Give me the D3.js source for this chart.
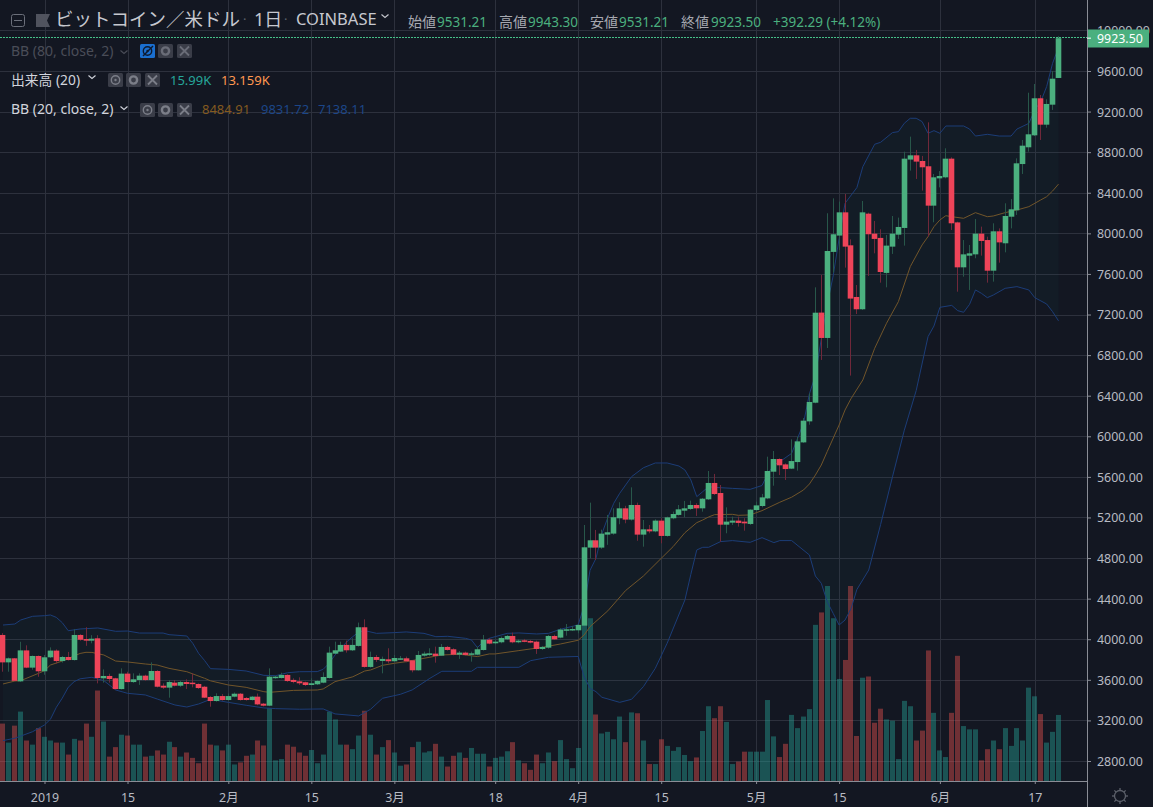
<!DOCTYPE html>
<html lang="ja">
<head>
<meta charset="UTF-8">
<title>ビットコイン／米ドル 1日 COINBASE</title>
<style>
  html, body { margin: 0; padding: 0; background: #131722; overflow: hidden; }
  svg { display: block; }
  text { font-family: "Noto Sans", "Noto Sans CJK JP", sans-serif; }
  .axis path { display: none; }
  .axis text { fill: #b8bbc3; font-size: 12.4px; }
  .axis line { stroke: #8a8d96; }
</style>
</head>
<body>
<svg id="chart" width="1153" height="807"></svg>
<script src="https://d3js.org/d3.v7.min.js"></script>
<script>
// candles are one per day, first one is 7 days before 2019-01-01
const firstDay = -7;
const opens = [
  4042,3772,3812,3585,3890,3720,3835,
  3684,3822,3888,3785,3825,3795,4042,4002,3986,4009,
  3615,3638,3615,3509,3661,3578,3598,3641,3598,3687,
  3542,3523,3572,3542,3578,3572,3559,3532,3431,3391,
  3440,3401,3434,3463,3421,3401,3434,3365,3345,3618,
  3618,3648,3599,3585,3576,3549,3556,3572,3618,3858,
  3878,3944,3891,3934,4118,3727,3825,3786,3802,3783,
  3802,3812,3792,3694,3838,3845,3858,3838,3924,3901,
  3848,3868,3848,3848,3894,3996,3960,3970,3999,4032,
  3970,3989,3983,3976,3904,3917,4032,4016,4088,4088,
  4088,4134,4903,4975,4903,5031,5041,5192,5290,5179,
  5323,5031,5083,5063,5169,5018,5192,5225,5267,5284,
  5323,5290,5379,5540,5441,5129,5149,5169,5159,5136,
  5273,5313,5388,5651,5776,5723,5681,5746,5940,6147,
  6331,7219,6969,7817,7978,8207,7882,7373,7252,8194,
  7997,7955,7610,7869,7987,8053,8727,8769,8713,8661,
  8273,8542,8552,8736,8108,7665,7780,7793,7997,7934,
  7632,8020,7902,8164,8227,8683,8848,8966,9331,9071,
  9268,9531.21
];
const highs = [
  4060,3820,3815,3975,3940,3840,3840,
  3845,3920,3900,3835,3875,4098,4050,4118,4040,4040,
  3703,3660,3620,3713,3680,3664,3664,3650,3772,3695,
  3565,3598,3598,3590,3605,3664,3565,3540,3440,3467,
  3460,3465,3475,3470,3430,3440,3465,3372,3713,3640,
  3670,3655,3615,3625,3582,3615,3599,3674,3927,3976,
  3976,3986,4009,4164,4196,3878,3845,3829,3911,3845,
  3835,3829,3796,3884,3878,3911,3927,3953,3934,3911,
  3884,3878,3878,3927,4042,4009,3993,4026,4042,4065,
  3999,4003,3993,3986,3934,4042,4045,4108,4150,4131,
  4150,5126,5346,5077,5080,5225,5290,5350,5315,5497,
  5346,5175,5126,5182,5192,5208,5258,5323,5363,5366,
  5340,5392,5658,5629,5520,5300,5208,5208,5192,5280,
  5356,5432,5799,5855,5783,5733,5970,5996,6180,6423,
  7468,7590,8198,8345,8313,8388,7941,7491,8319,8204,
  8122,8040,7984,8171,8155,8805,8953,8822,8763,9094,
  8585,8614,8838,8749,8115,7934,7885,8141,8066,7967,
  8099,8049,8296,8338,8739,8920,9386,9472,9363,9321,
  9600,9943.3
];
const lows = [
  3680,3680,3585,3580,3715,3700,3630,
  3650,3815,3760,3770,3790,3790,3985,3935,3960,3565,
  3572,3572,3505,3505,3575,3570,3550,3590,3595,3525,
  3510,3424,3535,3530,3510,3526,3510,3420,3335,3385,
  3395,3395,3428,3395,3395,3396,3350,3338,3340,3610,
  3612,3580,3566,3549,3539,3546,3549,3566,3612,3855,
  3875,3868,3884,3927,3720,3720,3776,3664,3763,3776,
  3796,3773,3674,3691,3829,3835,3769,3835,3888,3842,
  3806,3838,3779,3842,3888,3950,3950,3960,3993,3960,
  3960,3970,3960,3855,3894,3907,3993,4009,4035,4082,
  4059,4128,4797,4781,4890,4930,5030,5133,5143,5169,
  4970,4912,5044,5054,4945,5011,5182,5218,5202,5274,
  5215,5257,5372,5421,4962,5044,5126,5110,5070,5126,
  5258,5300,5380,5513,5618,5569,5677,5661,5935,6114,
  6325,6752,6870,7613,7836,7662,6598,7205,7245,7580,
  7803,7514,7468,7797,7945,7879,8618,8536,8421,7968,
  8109,8453,8542,8033,7425,7573,7442,7754,7780,7514,
  7524,7711,7813,8049,8181,8585,8805,8959,8920,9041,
  9216,9531.21
];
const closes = [
  3772,3812,3590,3890,3720,3835,3684,
  3822,3888,3785,3825,3795,4042,3995,3986,4005,3618,
  3638,3608,3509,3661,3578,3605,3641,3598,3687,3532,
  3523,3578,3542,3578,3559,3559,3519,3424,3391,3440,
  3401,3440,3463,3401,3401,3434,3358,3345,3631,3631,
  3648,3588,3579,3566,3549,3566,3589,3628,3868,3891,
  3944,3891,3944,4118,3727,3825,3796,3806,3783,3815,
  3812,3783,3694,3845,3858,3861,3835,3924,3894,3848,
  3868,3845,3861,3901,3996,3957,3976,4012,4032,3970,
  3986,3976,3967,3904,3924,4032,3999,4095,4098,4101,
  4141,4906,4975,4903,5041,5054,5202,5290,5179,5323,
  5031,5083,5063,5169,5018,5201,5234,5280,5290,5323,
  5290,5385,5540,5431,5129,5159,5169,5146,5142,5277,
  5319,5398,5658,5776,5714,5677,5756,5950,6154,6338,
  7218,6969,7826,7991,8207,7869,7357,7252,8207,7991,
  7945,7619,7879,7997,8063,8736,8769,8707,8651,8273,
  8552,8565,8736,8099,7665,7793,7803,7997,7925,7632,
  8020,7911,8171,8237,8690,8864,8976,9331,9071,9275,
  9524,9923.5
];
// volume in thousands
const volumes = [
  13.9,9.3,13.4,16.8,9.8,8.8,12.8,
  10.7,9.8,9.3,9.3,6.4,10.2,9.8,13.9,10.7,21.9,
  14.4,5.9,8.2,11.2,11.0,8.8,8.8,5.9,6.1,7.4,
  6.4,9.5,8.2,5.9,6.9,5.6,4.3,13.9,8.8,8.6,
  7.4,8.8,4.0,4.5,6.1,6.4,9.8,8.6,17.7,5.0,
  5.3,8.8,8.3,6.9,6.1,7.5,4.3,6.4,16.8,14.9,
  8.8,8.8,7.7,11.0,17.0,11.2,6.4,8.2,9.9,6.9,
  3.7,4.0,8.2,9.5,6.9,7.2,9.0,5.9,3.5,6.1,
  6.9,5.6,8.0,6.6,6.6,3.5,5.6,5.9,7.2,9.4,
  5.0,4.3,2.7,6.4,4.3,6.9,4.8,9.9,5.3,3.1,
  8.0,39.0,39.4,16.1,11.5,11.9,10.1,15.6,9.4,16.6,
  16.4,9.8,4.1,4.1,10.1,8.5,7.3,8.2,6.3,4.8,
  5.7,12.1,18.1,15.2,18.1,14.3,4.1,4.7,7.1,7.1,
  7.1,7.1,19.6,10.8,5.8,9.0,16.0,12.8,15.6,17.4,
  37.8,40.8,47.2,39.4,24.7,29.3,47.2,10.9,25.0,25.3,
  14.1,17.5,14.9,14.6,5.3,19.4,18.1,9.8,12.2,31.6,
  16.5,7.4,5.8,16.5,30.3,13.3,12.5,12.5,5.0,7.7,
  9.8,7.7,12.8,8.5,12.8,9.8,22.6,20.5,16.2,9.3,
  11.9,15.99
];

// Bollinger bands, read at the days where the lines bend
const upperDays = [-7,-5,-4,-2,0,1,2,3,4,6,9,12,14,16,20,21,24,25,26,27,28,31,34,37,39,41,43,46,47,48,49,51,52,53,54,56,59,61,64,66,68,71,72,73,74,75,78,80,83,85,87,90,91,92,93,94,95,96,97,99,101,103,105,107,108,109,110,111,112,113,116,119,121,122,123,124,126,127,128,129,130,131,132,133,134,135,137,138,140,141,143,144,145,146,147,148,149,150,151,152,155,156,157,159,161,163,164,166,167,168,169,170,171];
const upperVals = [4140,4150,4190,4226,4232,4239,4215,4163,4084,4101,4111,4078,4081,4061,4061,4045,4032,3960,3860,3790,3710,3703,3687,3644,3641,3670,3680,3681,3704,3763,3845,3976,4026,4072,4085,4058,4065,4072,4058,4025,4029,4009,3993,3917,3976,4009,4058,4062,4052,4058,4098,4141,4330,4680,4797,5040,5200,5340,5438,5602,5690,5737,5737,5707,5668,5570,5405,5454,5504,5497,5487,5477,5515,5635,5717,5750,5832,5980,6130,6420,6600,6960,7300,7580,7950,8296,8451,8657,8878,8897,8993,9002,9085,9134,9134,9101,8986,9012,8986,9058,9058,9028,8959,8976,8959,8959,9028,9084,9216,9298,9446,9675,9831.72];
const basisDays = [-7,-5,-4,-1,0,1,3,5,6,7,8,10,12,14,17,19,21,24,27,28,31,34,37,38,42,46,47,49,52,54,55,57,59,61,64,67,70,73,75,76,80,84,87,90,91,92,95,98,101,104,106,108,110,111,112,113,116,117,119,121,124,126,128,129,130,131,132,134,135,136,138,140,142,144,146,148,149,150,151,152,153,155,157,159,160,162,164,166,168,169,170,171];
const basisVals = [3559,3588,3592,3664,3690,3746,3785,3835,3860,3871,3870,3845,3785,3776,3756,3746,3713,3680,3615,3590,3549,3526,3483,3477,3496,3500,3510,3582,3630,3687,3697,3743,3763,3779,3812,3845,3852,3829,3855,3855,3888,3921,3953,3990,4042,4124,4280,4480,4623,4797,4912,5050,5149,5175,5205,5228,5231,5221,5225,5267,5350,5400,5471,5530,5618,5717,5850,6111,6259,6370,6555,6867,7114,7327,7672,7886,7968,8066,8132,8174,8164,8148,8204,8164,8171,8204,8230,8263,8329,8361,8417,8484.91];
const lowerDays = [-7,-5,-2,0,1,2,3,4,5,6,8,10,12,14,17,19,22,24,26,28,31,34,37,39,43,47,49,53,55,57,60,62,65,67,72,73,80,82,85,90,91,92,93,94,97,99,101,103,105,108,109,110,111,112,114,116,119,121,123,124,126,129,130,131,132,133,134,135,136,137,139,141,143,145,147,149,150,151,153,154,155,156,157,158,159,160,162,164,166,167,169,170,171];
const lowerVals = [3001,3024,3089,3155,3211,3330,3420,3526,3582,3610,3625,3592,3500,3467,3451,3411,3352,3332,3362,3408,3378,3349,3323,3316,3310,3313,3264,3244,3310,3418,3457,3500,3615,3684,3684,3723,3723,3789,3822,3830,3631,3516,3483,3428,3378,3408,3533,3713,3960,4387,4640,4880,4906,4906,4962,4972,4955,5001,4952,4972,4972,4830,4623,4551,4370,4255,4140,4189,4300,4490,4682,5130,5600,6060,6450,6982,7087,7271,7290,7238,7222,7300,7442,7409,7366,7392,7458,7475,7442,7366,7304,7228,7138.11];

const priceTicks = d3.range(2800, 10001, 400);
const timeTickDays = [0,14,31,45,59,76,90,104,120,134,151,167];
const timeTickLabels = ["2019","15","2月","15","3月","18","4月","15","5月","15","6月","17"];
const lastClose = 9923.5;

const upColor = "#4bb07f", downColor = "#ee4459";
const upWick = "#28574a", downWick = "#70283a";
const bandColor = "#1c3d78", basisColor = "#71552a";
const gridColor = "#2d313d";

const width = 1153, plotRight = 1087, plotBottom = 781;
const svg = d3.select("#chart");

svg.append("rect").attr("width", width).attr("height", 807).attr("fill", "#131722");

const x = d3.scaleLinear().domain([0, 171]).range([44.5, 1058.5]);
const y = d3.scaleLinear().domain([2800, 10000]).range([761, 30.4]);
const yVol = d3.scaleLinear().domain([0, 47.2]).range([plotBottom, 586]);

// snap to a pixel centre so thin lines stay sharp
const crisp = v => Math.round(v) + 0.5;
const barLeft = day => Math.round(x(day) - 2.5);

const candles = opens.map((o, i) => ({
  day: firstDay + i, open: o, high: highs[i], low: lows[i], close: closes[i], volume: volumes[i]
}));
const isUp = d => d.close >= d.open;

// grid
svg.append("g").selectAll("line").data(priceTicks).join("line")
  .attr("x1", 0).attr("x2", plotRight)
  .attr("y1", d => crisp(y(d))).attr("y2", d => crisp(y(d)))
  .attr("stroke", gridColor);
svg.append("g").selectAll("line").data(timeTickDays).join("line")
  .attr("y1", 0).attr("y2", plotBottom)
  .attr("x1", d => crisp(x(d))).attr("x2", d => crisp(x(d)))
  .attr("stroke", gridColor);

// volume
svg.append("g").selectAll("rect").data(candles).join("rect")
  .attr("x", d => barLeft(d.day)).attr("width", 5)
  .attr("y", d => yVol(d.volume)).attr("height", d => plotBottom - yVol(d.volume))
  .attr("fill", d => isUp(d) ? "#26a69a" : "#ef5350")
  .attr("opacity", 0.42);

// bands
const pts = (days, vals) => days.map((d, i) => [d, vals[i]]);
const upperPts = pts(upperDays, upperVals);
const basisPts = pts(basisDays, basisVals);
const lowerPts = pts(lowerDays, lowerVals);
const line = d3.line().x(d => x(d[0])).y(d => y(d[1]));

svg.append("path")
  .attr("d", line(upperPts.concat(lowerPts.slice().reverse())) + "Z")
  .attr("fill", "#1f8f8f").attr("opacity", 0.045);
[[upperPts, bandColor], [lowerPts, bandColor], [basisPts, basisColor]].forEach(([p, c]) => {
  svg.append("path").attr("d", line(p)).attr("fill", "none").attr("stroke", c).attr("stroke-width", 1);
});

// candles
svg.append("g").selectAll("line").data(candles).join("line")
  .attr("x1", d => barLeft(d.day) + 2.5).attr("x2", d => barLeft(d.day) + 2.5)
  .attr("y1", d => y(d.high)).attr("y2", d => y(d.low))
  .attr("stroke", d => isUp(d) ? upWick : downWick).attr("stroke-width", 1);
svg.append("g").selectAll("rect").data(candles).join("rect")
  .attr("x", d => barLeft(d.day) - 0.3).attr("width", 5.6)
  .attr("y", d => y(Math.max(d.open, d.close)))
  .attr("height", d => Math.max(1.5, Math.abs(y(d.open) - y(d.close))))
  .attr("fill", d => isUp(d) ? upColor : downColor);

// last price line
svg.append("line")
  .attr("x1", 0).attr("x2", plotRight).attr("y1", crisp(y(lastClose)) - 1).attr("y2", crisp(y(lastClose)) - 1)
  .attr("stroke", "#45c088").attr("stroke-dasharray", "2 1");

// axes
const yAxis = d3.axisRight(y).tickValues(priceTicks).tickFormat(d3.format(".2f")).tickSize(4).tickPadding(6);
const yG = svg.append("g").attr("class", "axis").attr("transform", `translate(${plotRight},0)`).call(yAxis);
yG.selectAll("text").attr("dy", "0.36em");
const xAxis = d3.axisBottom(x).tickValues(timeTickDays).tickFormat((d, i) => timeTickLabels[i]).tickSize(3).tickPadding(9);
svg.append("g").attr("class", "axis").attr("transform", `translate(0,${plotBottom})`).call(xAxis);

svg.append("line").attr("x1", 0).attr("x2", plotRight).attr("y1", plotBottom + 0.5).attr("y2", plotBottom + 0.5).attr("stroke", "#8a8d96");
svg.append("line").attr("x1", plotRight + 0.5).attr("x2", plotRight + 0.5).attr("y1", 0).attr("y2", 807).attr("stroke", "#8a8d96");

// last price label
svg.append("rect").attr("x", plotRight + 1).attr("y", 29.5).attr("width", 61).attr("height", 18).attr("fill", upColor);
svg.append("line").attr("x1", plotRight).attr("x2", plotRight + 4).attr("y1", y(lastClose)).attr("y2", y(lastClose)).attr("stroke", "#fff");
svg.append("text").attr("x", 1097).attr("y", y(lastClose) + 4.5).attr("fill", "#fff").attr("font-size", 12.4).text(d3.format(".2f")(lastClose));

// settings icon, bottom right
const gear = svg.append("g").attr("transform", "translate(1120,796)").attr("stroke", "#5d616b").attr("fill", "none");
gear.append("circle").attr("r", 5.5).attr("stroke-width", 1.3);
d3.range(8).forEach(i => {
  const a = i * Math.PI / 4;
  gear.append("line").attr("x1", 5.5 * Math.cos(a)).attr("y1", 5.5 * Math.sin(a))
    .attr("x2", 8 * Math.cos(a)).attr("y2", 8 * Math.sin(a)).attr("stroke-width", 1.3);
});

// header
const label = (txt, tx, ty, size, color) => svg.append("text").attr("x", tx).attr("y", ty)
  .attr("font-size", size).attr("fill", color).text(txt);
const chevron = (cx, cy, color) => svg.append("path")
  .attr("d", `M${cx - 3.5},${cy - 1.5}L${cx},${cy + 1.5}L${cx + 3.5},${cy - 1.5}`)
  .attr("fill", "none").attr("stroke", color).attr("stroke-width", 1.1);

svg.append("rect").attr("x", 11.5).attr("y", 14.5).attr("width", 13).attr("height", 12).attr("rx", 2)
  .attr("fill", "none").attr("stroke", "#6b6f7a");
svg.append("line").attr("x1", 14).attr("x2", 22).attr("y1", 20.5).attr("y2", 20.5).attr("stroke", "#6b6f7a");
svg.append("path").attr("d", "M36,14H50L47,20.5L50,27H36Z").attr("fill", "#50535e");

const titleColor = "#c6c8cf";
label("ビットコイン／米ドル", 55, 26, 18.5, titleColor);
label("·", 243, 24, 13, "#5d616b");
label("1日", 254, 26, 18, titleColor);
label("·", 284, 24, 13, "#5d616b");
label("COINBASE", 296, 25, 16.5, titleColor);
chevron(385, 16, titleColor);

const green = "#4bb07f", quoteLabel = "#a6a8b0";
[["始値", "9531.21", 408, 437], ["高値", "9943.30", 499, 528], ["安値", "9531.21", 590, 619], ["終値", "9923.50", 681, 711]].forEach(q => {
  label(q[0], q[2], 27, 14, quoteLabel);
  label(q[1], q[3], 27, 13.5, green);
});
label("+392.29 (+4.12%)", 773, 27, 13.5, green);

// indicator rows
const iconBox = (bx, by, w, fill) => svg.append("rect").attr("x", bx).attr("y", by).attr("width", w).attr("height", 14).attr("rx", 1.5).attr("fill", fill);
const iconEye = (cx, cy, color) => {
  svg.append("circle").attr("cx", cx).attr("cy", cy).attr("r", 4.2).attr("fill", "none").attr("stroke", color).attr("stroke-width", 1.4);
  svg.append("circle").attr("cx", cx).attr("cy", cy).attr("r", 1.2).attr("fill", color);
};
const iconGear = (cx, cy, color) => {
  svg.append("circle").attr("cx", cx).attr("cy", cy).attr("r", 3.6).attr("fill", "none").attr("stroke", color).attr("stroke-width", 2.4);
};
const iconX = (cx, cy, color) => svg.append("path")
  .attr("d", `M${cx - 4.5},${cy - 4.5}L${cx + 4.5},${cy + 4.5}M${cx + 4.5},${cy - 4.5}L${cx - 4.5},${cy + 4.5}`)
  .attr("stroke", color).attr("stroke-width", 1.8);

function iconRow(bx, by, firstFill, firstColor, fill, color) {
  iconBox(bx, by, 15, firstFill);
  iconEye(bx + 7.5, by + 7, firstColor);
  iconBox(bx + 18, by, 15, fill);
  iconGear(bx + 25.5, by + 7, color);
  iconBox(bx + 37, by, 15, fill);
  iconX(bx + 44.5, by + 7, color);
}

label("BB (80, close, 2)", 11, 56, 14, "#4a4d58");
chevron(124, 52, "#4a4d58");
iconRow(140, 44, "#1a6fd0", "#0d1a30", "#3a3d48", "#6a6d78");
svg.append("line").attr("x1", 143).attr("y1", 56).attr("x2", 153).attr("y2", 46).attr("stroke", "#0d1a30").attr("stroke-width", 1.4);

label("出来高 (20)", 11, 85, 13.8, "#d1d4dc");
chevron(92, 77, "#d1d4dc");
iconRow(108, 73, "#3a3d48", "#7b7e88", "#3a3d48", "#7b7e88");
label("15.99K", 170, 85, 13, "#26a69a");
label("13.159K", 221, 85, 13, "#ff9850");

label("BB (20, close, 2)", 11, 114, 14, "#d1d4dc");
chevron(124, 108, "#d1d4dc");
iconRow(140, 103, "#3a3d48", "#7b7e88", "#3a3d48", "#7b7e88");
label("8484.91", 202, 114, 13, "#845a20");
label("9831.72", 261, 114, 13, "#1c4688");
label("7138.11", 318, 114, 13, "#1c4688");
</script>
</body>
</html>
